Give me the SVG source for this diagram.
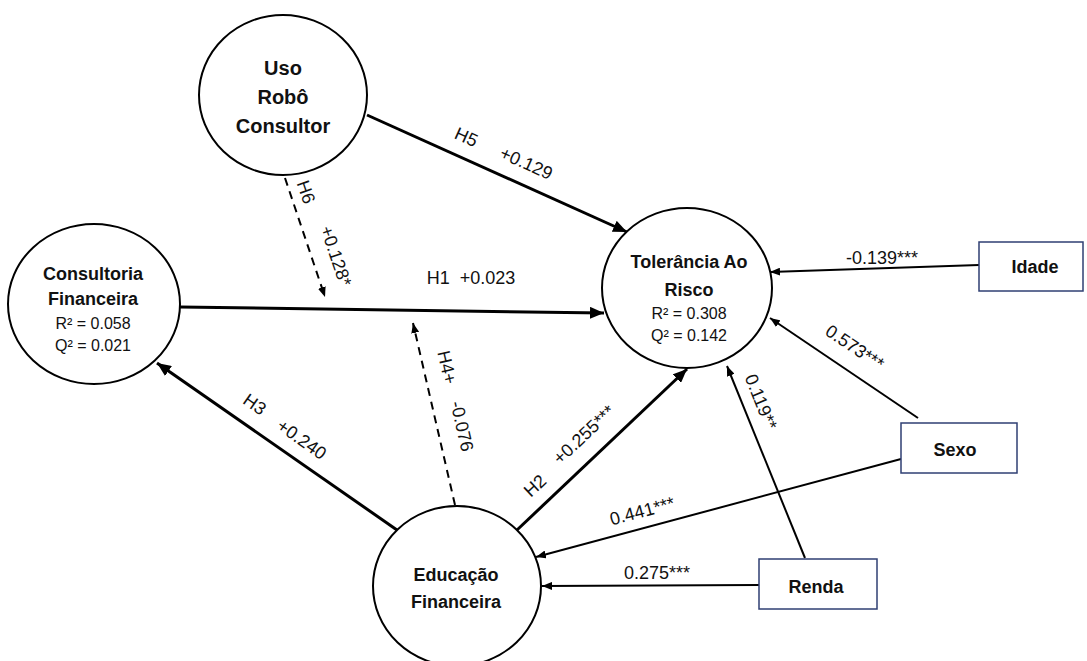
<svg xmlns="http://www.w3.org/2000/svg" width="1087" height="661" viewBox="0 0 1087 661">
<defs>
<style>
.node{fill:#fff;stroke:#000;stroke-width:2}
.box{fill:#fff;stroke:#2f3f73;stroke-width:1.5}
.t{font-family:"Liberation Sans",Arial,sans-serif;font-weight:bold;fill:#111;text-anchor:middle}
.s{font-family:"Liberation Sans",Arial,sans-serif;font-size:16px;fill:#111;text-anchor:middle}
.lb{font-family:"Liberation Sans",Arial,sans-serif;font-size:18px;fill:#111;text-anchor:middle;white-space:pre}
.thick{stroke:#000;stroke-width:3;fill:none;marker-end:url(#ah)}
.thin{stroke:#000;stroke-width:2;fill:none;marker-end:url(#as)}
.dash{stroke:#000;stroke-width:2;fill:none;stroke-dasharray:8 6;marker-end:url(#as)}
</style>
<marker id="ah" markerUnits="userSpaceOnUse" markerWidth="14" markerHeight="12" refX="14" refY="6" orient="auto"><path d="M0,0 L14,6 L0,12 z" fill="#000"/></marker>
<marker id="as" markerUnits="userSpaceOnUse" markerWidth="10" markerHeight="8" refX="10" refY="4" orient="auto"><path d="M0,0 L10,4 L0,8 z" fill="#000"/></marker>
</defs>
<rect width="1087" height="661" fill="#fff"/>
<g id="connectors">
<line class="thick" x1="367" y1="115" x2="627" y2="232"/>
<line class="thick" x1="180" y1="307" x2="604" y2="313"/>
<line class="dash" x1="285" y1="178" x2="325" y2="297"/>
<line class="dash" x1="455" y1="505" x2="413" y2="323"/>
<line class="thick" x1="397" y1="530" x2="157" y2="363"/>
<line class="thick" x1="517" y1="530" x2="687" y2="369"/>
<line class="thin" x1="979" y1="265" x2="770" y2="272"/>
<line class="thin" x1="918" y1="418" x2="770" y2="318"/>
<line class="thin" x1="805" y1="558" x2="727" y2="366"/>
<line class="thin" x1="901" y1="459" x2="536" y2="557"/>
<line class="thin" x1="759" y1="585" x2="542" y2="586"/>
<text class="lb" transform="translate(465,140) rotate(24)" y="3">H5</text>
<text class="lb" transform="translate(525,166) rotate(24)" y="3">+0.129</text>
<text class="lb" x="471" y="284" xml:space="preserve">H1  +0.023</text>
<text class="lb" transform="translate(303,193) rotate(71)" y="3">H6</text>
<text class="lb" transform="translate(333,257) rotate(71)" y="3">+0.128*</text>
<text class="lb" transform="translate(444,368) rotate(77)" y="3">H4+</text>
<text class="lb" transform="translate(459,427) rotate(77)" y="3">-0.076</text>
<text class="lb" transform="translate(253,407) rotate(35)" y="3">H3</text>
<text class="lb" transform="translate(300,442) rotate(35)" y="3">+0.240</text>
<text class="lb" transform="translate(537,488) rotate(-43)" y="3">H2</text>
<text class="lb" transform="translate(586,437) rotate(-43)" y="3">+0.255***</text>
<text class="lb" x="882" y="264">-0.139***</text>
<text class="lb" transform="translate(853,350) rotate(34)" y="3">0.573***</text>
<text class="lb" transform="translate(758,403) rotate(68)" y="3">0.119**</text>
<text class="lb" transform="translate(643,514) rotate(-15)" y="3">0.441***</text>
<text class="lb" x="657" y="579">0.275***</text>
</g>
<g id="uso">
<ellipse class="node" cx="283" cy="95" rx="84" ry="80"/>
<text class="t" style="font-size:20px" x="283" y="75">Uso</text>
<text class="t" style="font-size:20px" x="283" y="104">Robô</text>
<text class="t" style="font-size:20px" x="283" y="133">Consultor</text>
</g>
<g id="consultoria">
<ellipse class="node" cx="94" cy="304" rx="86" ry="80"/>
<text class="t" style="font-size:18px" x="93" y="280">Consultoria</text>
<text class="t" style="font-size:18px" x="93" y="305">Financeira</text>
<text class="s" x="93" y="329">R² = 0.058</text>
<text class="s" x="93" y="351">Q² = 0.021</text>
</g>
<g id="tolerancia">
<ellipse class="node" cx="687" cy="288" rx="85" ry="80"/>
<text class="t" style="font-size:18px" x="689" y="268">Tolerância Ao</text>
<text class="t" style="font-size:18px" x="689" y="296">Risco</text>
<text class="s" x="689" y="319">R² = 0.308</text>
<text class="s" x="689" y="341">Q² = 0.142</text>
</g>
<g id="educacao">
<ellipse class="node" cx="457" cy="586" rx="84" ry="80"/>
<text class="t" style="font-size:18px" x="456" y="581">Educação</text>
<text class="t" style="font-size:18px" x="456" y="608">Financeira</text>
</g>
<g id="idade">
<rect class="box" x="979" y="242" width="104" height="49"/>
<text class="t" style="font-size:18px" x="1035" y="273">Idade</text>
</g>
<g id="sexo">
<rect class="box" x="901" y="423" width="116" height="50"/>
<text class="t" style="font-size:18px" x="955" y="456">Sexo</text>
</g>
<g id="renda">
<rect class="box" x="759" y="559" width="118" height="50"/>
<text class="t" style="font-size:18px" x="816" y="593">Renda</text>
</g>
</svg>
